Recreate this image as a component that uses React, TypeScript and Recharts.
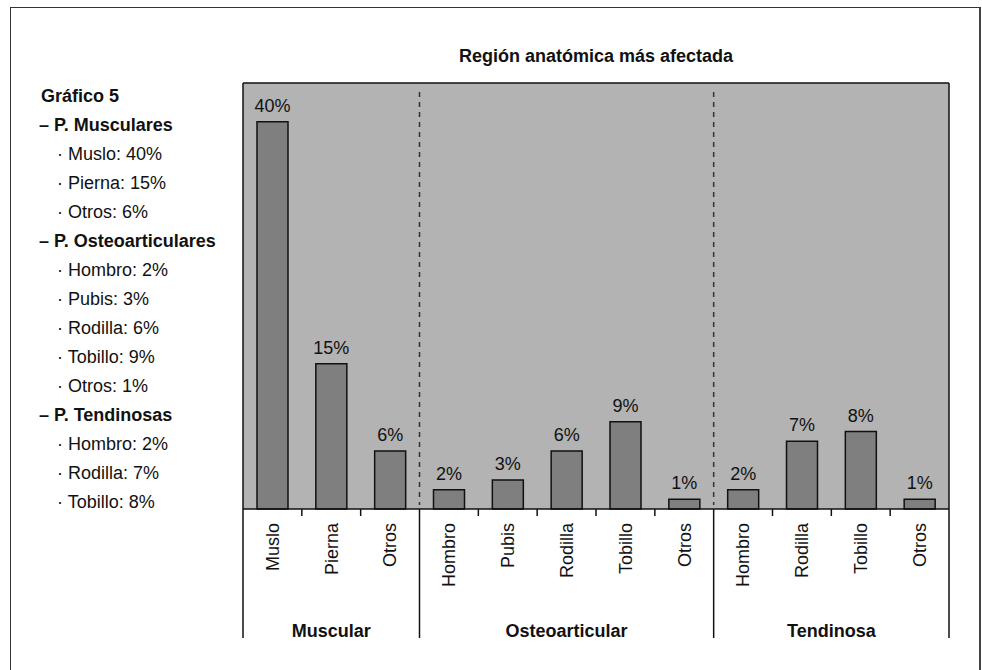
import { BarChart, Bar, XAxis, YAxis, CartesianGrid, LabelList } from "recharts";

// body parts per injury group and their share (%)
const groupNames = ["Muscular", "Osteoarticular", "Tendinosa"];
const groupTitles = ["P. Musculares", "P. Osteoarticulares", "P. Tendinosas"];
const muscularParts = ["Muslo", "Pierna", "Otros"];
const muscularValues = [40, 15, 6];
const osteoParts = ["Hombro", "Pubis", "Rodilla", "Tobillo", "Otros"];
const osteoValues = [2, 3, 6, 9, 1];
const tendonParts = ["Hombro", "Rodilla", "Tobillo", "Otros"];
const tendonValues = [2, 7, 8, 1];
// how many items of each group are listed in the side note
const noteCounts = [3, 5, 3];

const groupParts = [muscularParts, osteoParts, tendonParts];
const groupValues = [muscularValues, osteoValues, tendonValues];

const data = groupParts.flatMap((parts, g) =>
    parts.map((name, i) => ({
        id: `${groupNames[g]}-${name}`,
        name,
        group: g,
        first: i === 0,
        groupSize: parts.length,
        value: groupValues[g][i],
    }))
);

const W = 982;
const H = 670;
const PLOT_LEFT = 243;
const PLOT_RIGHT = 949;
const PLOT_TOP = 83;
const AXIS_Y = 509;
const AXIS_H = 130;
const SEP_BOTTOM = 638;
const Y_MAX = 44;
const BAND = (PLOT_RIGHT - PLOT_LEFT) / data.length;
const FONT = "'Liberation Sans', Arial, Helvetica, sans-serif";
const INK = "#111";

function CategoryTick(props: any) {
    const { x, index } = props;
    const d = data[index];
    if (!d) return null;
    const left = x - BAND / 2;
    const labelY = AXIS_Y + 14;
    return (
        <g>
            {index === 0 && (
                <>
                    <line x1={left} x2={left} y1={PLOT_TOP} y2={SEP_BOTTOM} stroke={INK} strokeWidth={1.5} />
                    <line x1={PLOT_LEFT} x2={PLOT_RIGHT} y1={PLOT_TOP} y2={PLOT_TOP} stroke={INK} strokeWidth={1.5} />
                </>
            )}
            {index > 0 && d.first && (
                <>
                    <line x1={left} x2={left} y1={AXIS_Y} y2={SEP_BOTTOM} stroke={INK} strokeWidth={1.5} />
                    <line
                        x1={left}
                        x2={left}
                        y1={PLOT_TOP + 9}
                        y2={AXIS_Y - 4}
                        stroke="#333"
                        strokeWidth={1.5}
                        strokeDasharray="5 5"
                    />
                </>
            )}
            {index > 0 && !d.first && (
                <line x1={left} x2={left} y1={AXIS_Y} y2={AXIS_Y + 7} stroke={INK} strokeWidth={1.5} />
            )}
            {index === data.length - 1 && (
                <line x1={left + BAND} x2={left + BAND} y1={PLOT_TOP} y2={SEP_BOTTOM} stroke={INK} strokeWidth={1.5} />
            )}
            <text
                x={x}
                y={labelY}
                transform={`rotate(-90 ${x} ${labelY})`}
                textAnchor="end"
                dy="0.35em"
                fontSize={18}
                fontFamily={FONT}
                fill={INK}
            >
                {d.name}
            </text>
            {d.first && (
                <text
                    x={left + (d.groupSize * BAND) / 2}
                    y={SEP_BOTTOM - 1}
                    textAnchor="middle"
                    fontSize={18}
                    fontWeight="bold"
                    fontFamily={FONT}
                    fill={INK}
                >
                    {groupNames[d.group]}
                </text>
            )}
        </g>
    );
}

function SideNote() {
    const rows: { text: string; bold: boolean; x: number }[] = [
        { text: "Gráfico 5", bold: true, x: 41 },
    ];
    groupTitles.forEach((title, g) => {
        rows.push({ text: `– ${title}`, bold: true, x: 39 });
        groupParts[g].slice(0, noteCounts[g]).forEach((part, i) => {
            rows.push({ text: `· ${part}: ${groupValues[g][i]}%`, bold: false, x: 57 });
        });
    });
    return (
        <g fontFamily={FONT} fontSize={18} fill={INK}>
            {rows.map((r, i) => (
                <text key={i} x={r.x} y={102 + i * 29} fontWeight={r.bold ? "bold" : "normal"}>
                    {r.text}
                </text>
            ))}
        </g>
    );
}

export default function App() {
    return (
        <div style={{ position: "relative", width: W, height: H, overflow: "hidden", background: "#fff" }}>
            <style>{"body { margin: 0; }"}</style>
            <div
                style={{
                    position: "absolute",
                    left: 10,
                    top: 7,
                    width: 971,
                    height: 700,
                    borderTop: "1.5px solid #333",
                    borderLeft: "1.5px solid #333",
                    borderRight: "2px solid #444",
                    boxSizing: "border-box",
                }}
            />
            <div style={{ position: "absolute", left: 0, top: 0 }}>
                <BarChart
                    width={W}
                    height={H}
                    data={data}
                    margin={{
                        top: PLOT_TOP,
                        right: W - PLOT_RIGHT,
                        bottom: H - AXIS_Y - AXIS_H,
                        left: PLOT_LEFT,
                    }}
                    barCategoryGap={0}
                >
                    <CartesianGrid horizontal={false} vertical={false} fill="#b3b3b3" stroke="none" />
                    <XAxis
                        dataKey="id"
                        height={AXIS_H}
                        interval={0}
                        tickLine={false}
                        axisLine={{ stroke: INK, strokeWidth: 1.5 }}
                        tick={(p: any) => <CategoryTick {...p} />}
                    />
                    <YAxis hide domain={[0, Y_MAX]} />
                    <Bar
                        dataKey="value"
                        barSize={31}
                        fill="#7f7f7f"
                        stroke={INK}
                        strokeWidth={1.5}
                        isAnimationActive={false}
                    >
                        <LabelList
                            dataKey="value"
                            position="top"
                            offset={10}
                            formatter={(v: any) => `${v}%`}
                            style={{ fontSize: 18, fontFamily: FONT, fill: INK }}
                        />
                    </Bar>
                </BarChart>
            </div>
            <svg width={W} height={H} style={{ position: "absolute", left: 0, top: 0, pointerEvents: "none" }}>
                <text
                    x={(PLOT_LEFT + PLOT_RIGHT) / 2}
                    y={62}
                    textAnchor="middle"
                    fontSize={18}
                    fontWeight="bold"
                    fontFamily={FONT}
                    fill={INK}
                >
                    Región anatómica más afectada
                </text>
                <SideNote />
            </svg>
        </div>
    );
}
